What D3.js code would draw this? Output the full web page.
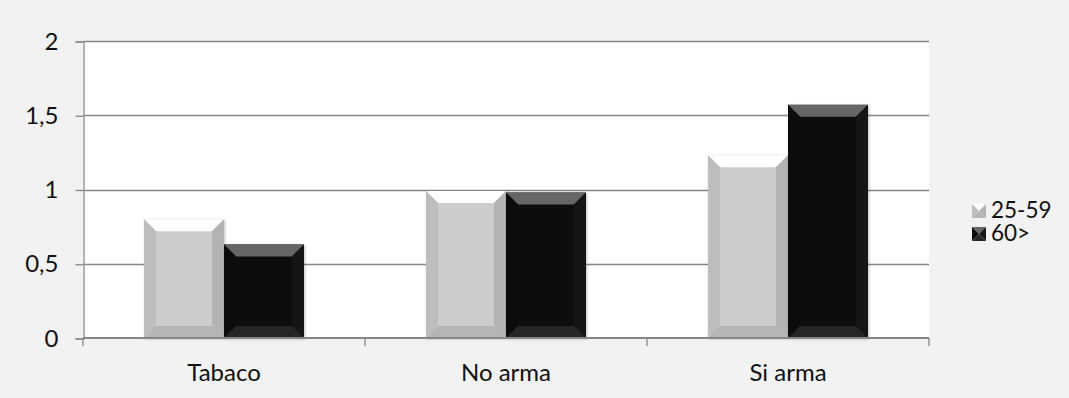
<!DOCTYPE html>
<html>
<head>
<meta charset="utf-8">
<script src="https://cdn.jsdelivr.net/npm/d3@7"></script>
<style>
  html, body { margin: 0; padding: 0; background: #f2f2f2; }
  svg { display: block; }
  text { font-family: Lato, "Open Sans", sans-serif; fill: #111111; }
</style>
</head>
<body>
<svg id="chart" width="1069" height="398"></svg>
<script>
// Chart data
const categories = ["Tabaco", "No arma", "Si arma"];
const seriesNames = ["25-59", "60>"];
const values25to59 = [0.80, 0.99, 1.23];
const values60plus = [0.63, 0.98, 1.57];
const yTicks = [0, 0.5, 1, 1.5, 2];
const yTickLabels = ["0", "0,5", "1", "1,5", "2"];

// Bevel palettes: face, top, left, right, bottom
const palettes = [
  { face: "#cccccc", top: "#ffffff", left: "#bdbdbd", right: "#b3b3b3", bottom: "#b5b5b5" },
  { face: "#111111", top: "#666666", left: "#0c0c0c", right: "#151515", bottom: "#262626" }
];

const svg = d3.select("#chart");
const W = 1069, H = 398;
const plot = { left: 83, right: 929, top: 41, bottom: 338 };

svg.append("rect").attr("width", W).attr("height", H).attr("fill", "#f2f2f2");
svg.append("rect")
  .attr("x", plot.left).attr("y", plot.top)
  .attr("width", plot.right - plot.left).attr("height", plot.bottom - plot.top)
  .attr("fill", "#ffffff");

const defs = svg.append("defs");
const f = defs.append("filter").attr("id", "shadow")
  .attr("x", "-10%").attr("y", "-10%").attr("width", "130%").attr("height", "130%");
f.append("feDropShadow").attr("dx", 1).attr("dy", 1).attr("stdDeviation", 1.6)
  .attr("flood-color", "#000").attr("flood-opacity", 0.25);

const y = d3.scaleLinear().domain([0, 2]).range([plot.bottom, plot.top]);
const x0 = d3.scaleBand().domain(categories).range([plot.left, plot.right]);
const bw = x0.bandwidth();
const groupW = bw * 0.567;
const x1 = d3.scaleBand().domain(seriesNames)
  .range([(bw - groupW) / 2, (bw + groupW) / 2]);

// Gridlines
svg.append("g").selectAll("line").data(yTicks.filter(t => t > 0)).join("line")
  .attr("x1", plot.left).attr("x2", plot.right)
  .attr("y1", d => Math.round(y(d)) + 0.5).attr("y2", d => Math.round(y(d)) + 0.5)
  .attr("stroke", "#868686").attr("stroke-width", 1.3);

// Y axis
const yAxis = d3.axisLeft(y).tickValues(yTicks)
  .tickFormat((d, i) => yTickLabels[i]).tickSize(8).tickPadding(17);
const gy = svg.append("g").attr("transform", `translate(${plot.left + 0.5},0.5)`).call(yAxis);
gy.select(".domain").attr("stroke", "#9a9a9a").attr("stroke-width", 1.5);
gy.selectAll(".tick line").attr("stroke", "#868686").attr("stroke-width", 1.3);
gy.selectAll("text").style("font-size", "24px").attr("fill", "#111111")
  .style("font-family", "Lato, sans-serif");

// Bars with bevel
const bev = 12;
const rows = categories.map((c, i) => ({ cat: c, vals: [values25to59[i], values60plus[i]] }));
const groups = svg.append("g").selectAll("g").data(rows).join("g")
  .attr("transform", d => `translate(${x0(d.cat)},0)`);

groups.each(function (row) {
  const g = d3.select(this);
  row.vals.forEach((v, si) => {
    const p = palettes[si];
    const xa = x1(seriesNames[si]);
    const xb = xa + x1.bandwidth();
    const ya = y(v);
    const yb = y(0);
    const bg = g.append("g");
    bg.append("rect").attr("x", xa).attr("y", ya).attr("width", xb - xa).attr("height", yb - ya)
      .attr("fill", p.face).attr("filter", "url(#shadow)");
    const poly = (pts, fill) => bg.append("polygon")
      .attr("points", pts.map(q => q.join(",")).join(" ")).attr("fill", fill);
    poly([[xa, ya], [xb, ya], [xb - bev, ya + bev], [xa + bev, ya + bev]], p.top);
    poly([[xa, ya], [xa + bev, ya + bev], [xa + bev, yb - bev], [xa, yb]], p.left);
    poly([[xb, ya], [xb, yb], [xb - bev, yb - bev], [xb - bev, ya + bev]], p.right);
    poly([[xa, yb], [xa + bev, yb - bev], [xb - bev, yb - bev], [xb, yb]], p.bottom);
  });
});

// X axis
const xAxis = d3.axisBottom(x0).tickSize(0).tickPadding(26);
const gx = svg.append("g").attr("transform", `translate(0,${plot.bottom})`).call(xAxis);
gx.select(".domain").remove();
gx.selectAll("text").style("font-size", "24px").attr("fill", "#111111")
  .style("font-family", "Lato, sans-serif");
svg.append("line").attr("x1", plot.left).attr("x2", plot.right)
  .attr("y1", plot.bottom).attr("y2", plot.bottom)
  .attr("stroke", "#868686").attr("stroke-width", 2);
const edges = [plot.left, ...categories.map(c => x0(c) + bw)];
svg.append("g").selectAll("line").data(edges).join("line")
  .attr("x1", d => d).attr("x2", d => d)
  .attr("y1", plot.bottom).attr("y2", plot.bottom + 8)
  .attr("stroke", "#868686").attr("stroke-width", 1.3);

// Legend
const legend = svg.append("g").attr("transform", "translate(972,204)");
seriesNames.forEach((name, i) => {
  const p = palettes[i];
  const lg = legend.append("g").attr("transform", `translate(0,${i * 23})`);
  const s = 14, h = s / 2;
  const tri = (pts, fill) => lg.append("polygon")
    .attr("points", pts.map(q => q.join(",")).join(" ")).attr("fill", fill);
  tri([[0, 0], [s, 0], [h, h]], p.top);
  tri([[0, 0], [h, h], [0, s]], p.left);
  tri([[s, 0], [s, s], [h, h]], p.right);
  tri([[0, s], [h, h], [s, s]], p.bottom);
  lg.append("text").attr("x", 19).attr("y", s)
    .style("font-size", "22.5px").text(name);
});
</script>
</body>
</html>
